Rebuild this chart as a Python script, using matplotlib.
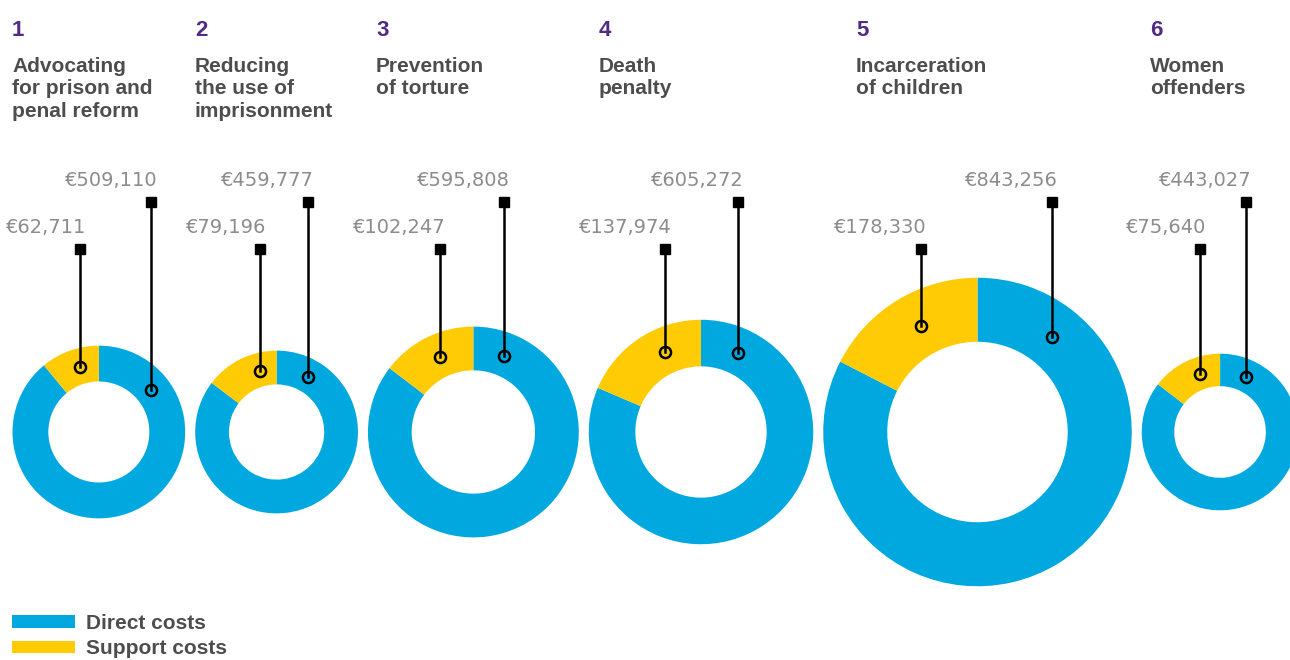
import numpy as np
import matplotlib.pyplot as plt
from matplotlib.patches import Patch

numbers = ['1', '2', '3', '4', '5', '6']
titles = [
    ['Advocating', 'for prison and', 'penal reform'],
    ['Reducing', 'the use of', 'imprisonment'],
    ['Prevention', 'of torture'],
    ['Death', 'penalty'],
    ['Incarceration', 'of children'],
    ['Women', 'offenders'],
]
direct_costs = [509110, 459777, 595808, 605272, 843256, 443027]
support_costs = [62711, 79196, 102247, 137974, 178330, 75640]

W, H = 1290, 660
blue = '#00a8e0'
yellow = '#ffcb05'
purple = '#4f2b85'
dark = '#4d4d4d'
grey = '#8c8c8c'

plt.rcParams['font.family'] = ['Liberation Sans', 'DejaVu Sans']

fig = plt.figure(figsize=(W / 100, H / 100), dpi=100)
ax = fig.add_axes([0, 0, 1, 1])

# layout (pixels, y measured from top)
px_per_euro = 1.51e-4   # outer radius grows with total cost
hole = 0.585
gap = 10
left = 12.5
cy = H - 432
title_x = [12, 195, 376, 599, 856, 1150]
sup_ang = [-16, -15, -24, -24, -28, -19]   # degrees, clockwise from top
dir_ang = [51, 30, 22, 25, 38, 25]
sup_top, dir_top = 249, 202

for i in range(6):
    total = direct_costs[i] + support_costs[i]
    r = total * px_per_euro
    cx = left + r
    left = cx + r + gap
    ax.pie([direct_costs[i], support_costs[i]], colors=[blue, yellow],
           startangle=90, counterclock=False, center=(cx, cy), radius=r,
           wedgeprops=dict(width=r * (1 - hole), linewidth=0))

    for ang, top, val in [(sup_ang[i], sup_top, support_costs[i]),
                          (dir_ang[i], dir_top, direct_costs[i])]:
        a = np.radians(ang)
        mx = cx + 0.78 * r * np.sin(a)
        my = cy + 0.78 * r * np.cos(a)
        ax.plot([mx, mx], [my, H - top], color='black', lw=1.8, zorder=3)
        ax.plot(mx, H - top, 's', color='black', ms=7.2, zorder=4)
        ax.plot(mx, my, 'o', mfc='none', mec='black', ms=8, mew=1.8, zorder=4)
        ax.text(mx + 6, H - top + 16, '€{:,}'.format(val), ha='right',
                va='baseline', fontsize=14, color=grey, family='DejaVu Sans')

    ax.text(title_x[i], H - 36, numbers[i], fontsize=16, fontweight='bold',
            color=purple, va='baseline')
    for k, line in enumerate(titles[i]):
        ax.text(title_x[i], H - 72 - 22.5 * k, line, fontsize=15,
                fontweight='bold', color=dark, va='baseline')

ax.legend(handles=[Patch(facecolor=blue, lw=0, label='Direct costs'),
                   Patch(facecolor=yellow, lw=0, label='Support costs')],
          loc='upper left', bbox_to_anchor=(12 / W, 1 - 614 / H),
          frameon=False, borderpad=0, borderaxespad=0, handlelength=3.0,
          handleheight=0.53, handletextpad=0.53, labelspacing=0.3,
          prop=dict(weight='bold', size=15), labelcolor=dark)

ax.set_xlim(0, W)
ax.set_ylim(0, H)
ax.set_aspect('equal')
ax.axis('off')

fig.savefig('out.png', dpi=100)
